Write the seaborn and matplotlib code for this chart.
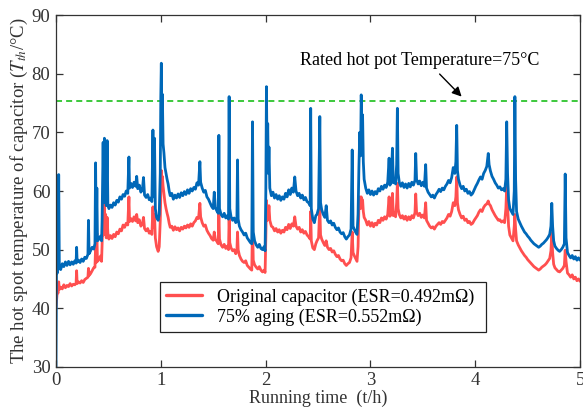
import matplotlib
matplotlib.use('Agg')
import pandas as pd
import matplotlib.pyplot as plt
import seaborn as sns

# Step 01: data (time in hours, temperature in degC)
time_h = [
    0.000, 0.004, 0.008, 0.013, 0.020, 0.026, 0.032, 0.045, 0.060, 0.075, 0.090,
    0.105, 0.120, 0.135, 0.150, 0.165, 0.180, 0.192, 0.197, 0.202,
    0.215, 0.230, 0.245, 0.260, 0.275, 0.290, 0.305, 0.310, 0.316,
    0.330, 0.345, 0.360, 0.372, 0.378, 0.384, 0.390, 0.396, 0.410, 0.425, 0.435,
    0.440, 0.450, 0.456, 0.462, 0.468, 0.474, 0.480, 0.488, 0.495, 0.505,
    0.520, 0.535, 0.550, 0.565, 0.580, 0.595, 0.610, 0.625, 0.640, 0.655, 0.670, 0.685,
    0.696, 0.702, 0.715, 0.730, 0.745, 0.760, 0.770, 0.780, 0.795, 0.810,
    0.825, 0.835, 0.845, 0.860, 0.875, 0.890, 0.905, 0.915, 0.925, 0.932, 0.940, 0.948,
    0.960, 0.975, 0.985, 0.995, 1.000, 1.005, 1.010, 1.015, 1.022, 1.030, 1.040, 1.050, 1.060, 1.070, 1.080, 1.090,
    1.105, 1.120, 1.135, 1.150, 1.165, 1.180, 1.195, 1.210, 1.225, 1.240, 1.255, 1.270, 1.285, 1.300, 1.315, 1.330,
    1.345, 1.360, 1.373, 1.380, 1.395, 1.410, 1.425, 1.440, 1.455, 1.470, 1.484, 1.500,
    1.510, 1.520, 1.535, 1.548, 1.554, 1.560, 1.575, 1.590, 1.605, 1.620, 1.635, 1.646,
    1.652, 1.658, 1.670, 1.685, 1.700, 1.715, 1.726, 1.732, 1.738, 1.750, 1.765, 1.780, 1.795, 1.810, 1.825, 1.840, 1.855, 1.868,
    1.875, 1.882, 1.895, 1.910, 1.925, 1.940, 1.955, 1.970, 1.985, 1.995,
    2.002, 2.008, 2.014, 2.020, 2.026, 2.032, 2.040,
    2.055, 2.070, 2.085, 2.100, 2.115, 2.130, 2.145, 2.160, 2.175, 2.190, 2.205, 2.220, 2.235, 2.250, 2.265,
    2.278, 2.290, 2.305, 2.320, 2.335, 2.350, 2.365, 2.380, 2.395, 2.410, 2.425, 2.430, 2.436,
    2.450, 2.465, 2.479, 2.490, 2.505, 2.517, 2.524, 2.535, 2.550, 2.565, 2.578, 2.590,
    2.605, 2.620, 2.635, 2.650, 2.665, 2.680, 2.695, 2.710, 2.725, 2.740, 2.755, 2.770, 2.785, 2.800,
    2.815, 2.826, 2.834, 2.845, 2.858, 2.872, 2.882, 2.890, 2.898, 2.906, 2.912, 2.918, 2.925, 2.932, 2.940,
    2.955, 2.970, 2.985, 3.000, 3.015, 3.030, 3.045, 3.060, 3.075, 3.090, 3.105, 3.120, 3.135, 3.150, 3.165,
    3.178, 3.186, 3.198, 3.210, 3.218, 3.230, 3.240, 3.250, 3.257, 3.264, 3.275, 3.290,
    3.305, 3.320, 3.335, 3.350, 3.365, 3.380, 3.395, 3.410, 3.425, 3.432, 3.440, 3.455, 3.470, 3.485, 3.500, 3.515, 3.527, 3.535,
    3.550, 3.565, 3.580, 3.595, 3.610, 3.625, 3.640, 3.655, 3.670, 3.685, 3.700, 3.715, 3.730, 3.745, 3.760, 3.775,
    3.790, 3.805, 3.815, 3.823, 3.830, 3.840, 3.855, 3.870, 3.885, 3.900, 3.915, 3.930, 3.945, 3.960, 3.975,
    3.990, 4.005, 4.020, 4.035, 4.050, 4.065, 4.080, 4.095, 4.110, 4.124, 4.132,
    4.145, 4.160, 4.175, 4.190, 4.205, 4.220, 4.235, 4.250, 4.265, 4.280, 4.292, 4.300, 4.308,
    4.318, 4.330, 4.345, 4.360, 4.372, 4.378, 4.385, 4.394, 4.410, 4.425, 4.440, 4.455, 4.470,
    4.485, 4.500, 4.515, 4.530, 4.545, 4.560, 4.575, 4.590, 4.605, 4.620, 4.635, 4.650, 4.665, 4.680, 4.695, 4.710,
    4.722, 4.730, 4.738, 4.748, 4.760, 4.775, 4.790, 4.805, 4.820, 4.835, 4.850,
    4.858, 4.866, 4.880, 4.895, 4.910, 4.925, 4.940, 4.955, 4.970, 4.985, 5.000,
]

# 75% aging capacitor (blue)
aged = [
    30.0, 45.0, 56.5, 46.0, 47.0, 62.8, 47.2, 46.6, 47.6, 47.1, 47.9,
    47.3, 48.0, 47.4, 47.9, 47.5, 48.1, 47.7, 50.4, 47.9,
    48.2, 47.8, 48.4, 48.0, 48.7, 48.5, 49.2, 55.0, 49.3,
    49.8, 50.4, 50.1, 51.0, 64.8, 52.0, 60.5, 51.5, 51.8, 52.3, 51.5,
    55.0, 68.3, 58.0, 69.0, 59.5, 68.5, 57.5, 68.6, 57.8, 57.0,
    57.6, 57.2, 58.0, 57.6, 58.4, 58.1, 59.0, 58.6, 59.4, 59.1, 60.0, 59.6,
    65.8, 60.5, 61.3, 60.6, 61.5, 60.8, 62.5, 60.4, 61.0, 59.8,
    60.3, 62.3, 59.3, 58.9, 59.4, 58.5, 58.8, 58.2, 70.4, 59.0, 69.0, 57.0,
    55.5, 55.0, 56.0, 63.0, 76.0, 81.8, 73.0, 76.5, 68.0, 66.5, 64.0, 63.0, 62.0, 61.2, 60.0, 59.2,
    59.6, 58.6, 59.3, 58.8, 59.5, 58.9, 59.7, 59.2, 59.9, 59.4, 60.2, 59.6, 60.4, 60.0, 60.6, 60.3,
    61.4, 61.0, 65.0, 61.5, 60.5, 59.8, 60.1, 59.0, 58.6, 58.0, 57.4, 57.0,
    59.8, 57.2, 56.6, 56.2, 69.5, 57.0, 56.0, 55.6, 56.2, 55.4, 55.8, 55.2,
    76.1, 57.0, 55.6, 55.0, 55.4, 54.6, 55.0, 65.3, 55.2, 54.0, 53.4, 53.0, 52.5, 52.8, 52.0, 51.6, 51.2, 51.0,
    71.8, 53.0, 51.5, 50.8, 50.4, 50.9, 50.2, 50.0, 50.5, 49.8,
    60.0, 77.8, 65.0, 71.5, 63.0, 67.5, 60.5,
    59.2, 59.8, 58.8, 59.4, 58.6, 59.2, 58.4, 59.0, 58.6, 59.6, 59.0, 60.2, 59.4, 60.5, 59.8,
    62.4, 60.0, 59.2, 59.6, 58.8, 59.3, 58.5, 58.9, 58.2, 58.0, 57.5, 74.1, 57.0,
    55.2, 54.6, 55.8, 56.0, 57.0, 72.7, 58.0, 56.8, 56.0, 55.5, 57.5, 55.0,
    54.6, 54.9, 54.2, 54.5, 53.8, 53.4, 53.7, 53.0, 52.7, 52.9, 52.2, 51.8, 52.2, 52.5,
    53.5, 67.0, 54.0, 53.5, 53.0, 52.6, 56.0, 64.0, 70.0, 66.0, 76.4, 70.5, 73.0, 65.0, 62.0,
    60.5, 59.6, 60.2, 59.4, 60.0, 59.3, 59.9, 59.5, 60.4, 60.0, 60.8, 60.3, 61.0, 60.6, 61.5,
    65.6, 61.0, 61.6, 67.3, 61.4, 62.0, 61.2, 64.5, 74.1, 63.0, 61.5, 60.8,
    61.4, 60.6, 61.2, 60.5, 61.3, 60.7, 61.5, 61.0, 61.8, 66.4, 62.0, 61.2, 61.7, 60.9, 61.5, 60.8, 64.5, 60.5,
    59.8, 59.4, 59.0, 59.3, 58.8, 59.4, 59.8, 60.3, 59.9, 60.5, 60.2, 60.8, 61.2, 61.8, 61.4, 62.3,
    64.0, 63.0, 65.0, 71.2, 63.5, 62.0, 61.0, 60.4, 60.8, 60.0, 60.3, 59.6, 59.9, 59.3, 59.6,
    60.2, 60.8, 61.3, 61.9, 62.4, 62.0, 63.0, 63.5, 64.2, 66.4, 64.5,
    63.4, 62.5, 62.0, 61.4, 61.0, 60.5, 60.7, 60.2, 60.4, 60.0, 62.0, 71.8, 63.0,
    58.5, 57.0, 56.5, 56.0, 60.0, 76.1, 62.0, 56.5, 55.2, 54.6, 54.0, 53.5, 53.0,
    52.7, 52.3, 52.0, 51.6, 51.3, 51.0, 50.8, 50.6, 50.4, 50.6, 50.9, 51.1, 51.4, 51.7, 52.1, 52.6,
    54.0, 57.9, 54.0, 51.5, 50.6, 50.2, 49.9, 49.7, 50.0, 50.4, 51.0,
    62.9, 52.0, 49.5, 49.0, 48.6, 49.0, 48.4, 48.8, 48.2, 48.6, 48.2,
]

# Original capacitor (red)
original = [
    40.0, 41.0, 42.2, 43.0, 42.6, 44.5, 43.2, 43.6, 43.3, 44.0, 43.5,
    43.9, 43.7, 44.2, 43.8, 44.1, 44.0, 44.3, 46.4, 44.2,
    44.5, 44.3, 44.7, 44.4, 44.9, 45.1, 45.3, 46.8, 45.6,
    45.9, 46.4, 46.9, 47.0, 50.5, 47.8, 52.8, 48.0, 48.3, 48.9, 48.0,
    51.0, 56.5, 52.5, 57.8, 54.0, 56.0, 52.0, 55.5, 52.8, 51.8,
    52.4, 51.9, 52.6, 52.2, 53.0, 52.7, 53.5, 53.2, 54.2, 53.8, 54.5, 54.2,
    59.0, 54.8, 55.3, 54.8, 55.6, 54.9, 56.0, 54.6, 55.1, 54.0,
    54.4, 55.5, 53.6, 53.2, 53.6, 52.8, 53.1, 52.6, 57.3, 53.8, 56.0, 52.0,
    50.5, 49.7, 50.5, 55.0, 59.5, 63.5, 61.0, 62.5, 60.8, 59.5, 58.0, 57.0, 56.2, 55.5, 54.5, 53.8,
    54.0, 53.3, 53.9, 53.4, 53.7, 53.2, 53.8, 53.5, 54.0, 53.7, 54.2, 53.8, 54.4, 54.0, 54.6, 54.9,
    55.5, 55.3, 57.9, 55.6, 54.6, 54.0, 54.2, 53.3, 52.8, 52.4, 51.9, 51.6,
    53.0, 51.8, 51.4, 51.0, 56.2, 51.8, 50.8, 50.4, 50.9, 50.2, 50.6, 50.0,
    55.6, 51.2, 50.3, 49.8, 50.0, 49.3, 49.8, 53.0, 50.0, 49.0, 48.4, 48.0, 47.8, 48.1, 47.3, 47.0, 46.7, 46.5,
    55.0, 48.2, 47.4, 47.0, 46.7, 47.1, 46.5, 46.2, 46.5, 46.1,
    52.0, 58.4, 55.0, 57.0, 56.0, 57.5, 55.0,
    54.0, 53.8, 53.2, 53.6, 53.0, 53.4, 52.8, 53.3, 53.0, 53.8, 53.4, 54.3, 53.6, 54.4, 54.0,
    55.6, 54.0, 53.5, 53.8, 53.0, 53.4, 52.8, 53.1, 52.5, 52.2, 51.8, 56.5, 51.5,
    50.3, 50.0, 51.0, 51.5, 52.0, 57.5, 52.5, 51.8, 51.2, 50.7, 51.5, 50.4,
    50.0, 50.2, 49.6, 49.8, 49.2, 48.8, 49.0, 48.4, 48.1, 48.2, 47.6, 47.3, 47.6, 47.8,
    48.6, 53.0, 49.5, 49.0, 48.5, 48.0, 50.5, 57.5, 59.0, 57.0, 59.0, 58.0, 58.5, 56.5, 55.5,
    55.0, 54.2, 54.8, 54.0, 54.6, 53.9, 54.5, 54.2, 55.0, 54.6, 55.4, 55.0, 55.6, 55.2, 56.0,
    59.0, 55.7, 56.0, 59.6, 55.8, 56.3, 55.6, 58.0, 61.3, 57.0, 56.0, 55.4,
    55.8, 55.2, 55.7, 55.0, 55.6, 55.1, 55.8, 55.4, 56.3, 59.5, 56.4, 55.8, 56.2, 55.5, 55.9, 55.4, 58.0, 55.0,
    54.5, 54.0, 53.7, 53.9, 53.5, 54.0, 54.3, 54.6, 54.3, 54.8, 54.6, 55.0, 55.4, 56.0, 55.7, 56.5,
    58.0, 57.5, 59.0, 62.4, 58.0, 56.8, 56.0, 55.4, 55.7, 55.0, 55.2, 54.6, 54.8, 54.3, 54.5,
    55.0, 55.4, 55.8, 56.4, 56.8, 56.5, 57.2, 57.6, 57.8, 58.3, 57.8,
    57.5, 56.8, 56.3, 55.8, 55.4, 55.0, 55.1, 54.7, 54.9, 54.6, 57.0, 60.7, 57.5,
    54.0, 52.5, 52.0, 51.5, 54.0, 56.0, 53.5, 51.5, 50.8, 50.3, 49.8, 49.4, 49.0,
    48.7, 48.3, 48.0, 47.7, 47.4, 47.1, 46.9, 46.7, 46.5, 46.7, 47.0, 47.2, 47.4, 47.7, 48.1, 48.5,
    49.8, 52.8, 49.5, 47.5, 46.9, 46.6, 46.3, 46.2, 46.5, 46.8, 47.3,
    49.9, 48.0, 46.0, 45.7, 45.3, 45.7, 45.0, 45.3, 44.7, 45.0, 44.6,
]

labels = ['Original capacitor (ESR=0.492m\u03a9)', '75% aging (ESR=0.552m\u03a9)']
rated_temp = 75.3
x_ticks = [0, 1, 2, 3, 4, 5]
y_ticks = [30, 40, 50, 60, 70, 80, 90]

n = len(time_h)
assert len(aged) == n and len(original) == n

df = pd.DataFrame({
    'time': time_h + time_h,
    'temp': original + aged,
    'series': [labels[0]] * n + [labels[1]] * n,
})

# Step 02: style
sns.set_style('ticks')
plt.rcParams['font.family'] = ['Liberation Serif', 'DejaVu Serif']
plt.rcParams['mathtext.fontset'] = 'stix'
text_col = '#333333'

fig, ax = plt.subplots(figsize=(5.83, 4.09), dpi=100)
fig.subplots_adjust(left=0.096, right=0.995, bottom=0.103, top=0.963)

sns.lineplot(data=df, x='time', y='temp', hue='series', hue_order=labels,
             palette=['#FF4F4F', '#0068B8'], linewidth=2.0, estimator=None,
             sort=False, ax=ax)

ax.axhline(rated_temp, color='#3CC83C', lw=1.4, ls=(0, (3.1, 2.1)), zorder=1)

ax.text(3.47, 82.2, 'Rated hot pot Temperature=75\u00b0C', ha='center', va='center',
        fontsize=13, color='black')
ax.annotate('', xy=(3.87, 76.1), xytext=(3.66, 79.95),
            arrowprops=dict(arrowstyle='-|>', color='black', lw=1.0,
                            mutation_scale=14, shrinkA=0, shrinkB=0))

ax.set_xlim(0, 5)
ax.set_ylim(30, 90)
ax.set_xticks(x_ticks)
ax.set_yticks(y_ticks)
ax.tick_params(direction='in', top=True, right=True, length=5, width=0.9,
               labelsize=13.5, labelcolor=text_col, color=text_col, pad=4)
for sp in ax.spines.values():
    sp.set_color(text_col)
    sp.set_linewidth(0.9)

ax.set_xlabel('Running time  (t/h)', fontsize=13, color=text_col, labelpad=0)
ax.set_ylabel('The hot spot temperature of capacitor ($T_{th}$/\u00b0C)',
              fontsize=13.5, color=text_col, labelpad=1)

leg = ax.legend(loc='center', bbox_to_anchor=(0.198, 0.096, 0.622, 0.148), mode='expand',
                fancybox=False, framealpha=1, edgecolor='#222222', fontsize=13,
                borderaxespad=0, handlelength=2.0, borderpad=0.35, labelspacing=0.15)
leg.get_frame().set_linewidth(0.9)
for t in leg.get_texts():
    t.set_color('black')
for h in leg.get_lines():
    h.set_linewidth(2.4)

fig.savefig('out.png', dpi=100)
